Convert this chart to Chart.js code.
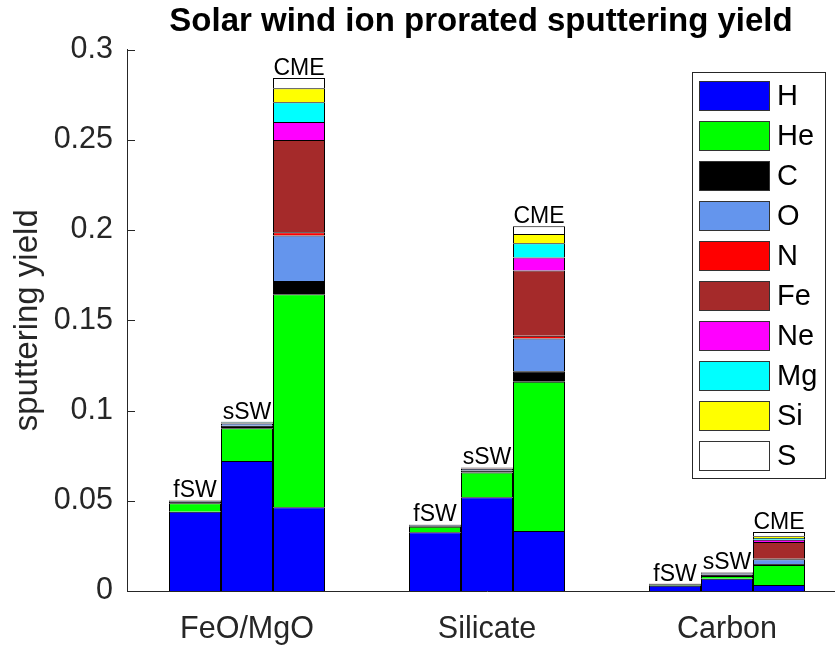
<!DOCTYPE html>
<html>
<head>
<meta charset="utf-8">
<script src="https://cdn.jsdelivr.net/npm/chart.js@4"></script>
<style>
  html, body { margin: 0; padding: 0; background: #fff; overflow: hidden; }
  #wrap { width: 860px; height: 645px; position: relative; }
</style>
</head>
<body>
<div id="wrap"><canvas id="sputter"></canvas></div>
<script>
// targets on the x axis, solar wind types within each target
const targets = ['FeO/MgO', 'Silicate', 'Carbon'];
const winds = ['fSW', 'sSW', 'CME'];
const species = ['H', 'He', 'C', 'O', 'N', 'Fe', 'Ne', 'Mg', 'Si', 'S'];

// yields, ordered: FeO/MgO fSW, sSW, CME | Silicate fSW, sSW, CME | Carbon fSW, sSW, CME
const yieldH  = [0.0439, 0.0720, 0.0464, 0.0325, 0.0519, 0.0332, 0.0029, 0.0068, 0.0033];
const yieldHe = [0.0047, 0.0181, 0.1180, 0.0031, 0.0138, 0.0827, 0.0004, 0.0015, 0.0111];
const yieldC  = [0.0008, 0.0014, 0.0074, 0.0006, 0.0010, 0.0059, 0.0004, 0.0009, 0.0006];
const yieldO  = [0.0004, 0.0013, 0.0251, 0.0003, 0.0009, 0.0181, 0.0002, 0.0007, 0.0026];
const yieldN  = [0.0001, 0.0001, 0.0019, 0.0001, 0.0001, 0.0015, 0.0000, 0.0001, 0.0006];
const yieldFe = [0.0002, 0.0004, 0.0510, 0.0001, 0.0003, 0.0362, 0.0001, 0.0002, 0.0089];
const yieldNe = [0.0001, 0.0001, 0.0101, 0.0001, 0.0001, 0.0072, 0.0001, 0.0001, 0.0013];
const yieldMg = [0.0001, 0.0002, 0.0109, 0.0001, 0.0002, 0.0078, 0.0000, 0.0001, 0.0010];
const yieldSi = [0.0001, 0.0001, 0.0077, 0.0000, 0.0001, 0.0052, 0.0000, 0.0001, 0.0009];
const yieldS  = [0.0000, 0.0001, 0.0057, 0.0000, 0.0001, 0.0043, 0.0000, 0.0000, 0.0024];

const yTicks = [0, 0.05, 0.1, 0.15, 0.2, 0.25, 0.3];

const yields = [yieldH, yieldHe, yieldC, yieldO, yieldN, yieldFe, yieldNe, yieldMg, yieldSi, yieldS];
const colors = ['#0000ff', '#00ff00', '#000000', '#6495ed', '#ff0000',
                '#a52a2a', '#ff00ff', '#00ffff', '#ffff00', '#ffffff'];

const TITLE = 'Solar wind ion prorated sputtering yield';
const FONT = 'Liberation Sans, Arial, Helvetica, sans-serif';
const AXIS = '#262626';

// one dataset per species and wind type, grouped with "stack"
const datasets = [];
winds.forEach((w, wi) => {
  species.forEach((sp, si) => {
    datasets.push({
      label: sp,
      stack: w,
      data: targets.map((t, ti) => yields[si][ti * winds.length + wi]),
      backgroundColor: colors[si],
      borderColor: '#000000',
      borderWidth: 1,
      barPercentage: 1.0,
      categoryPercentage: 0.65
    });
  });
});

// title centred over the axes, not the whole canvas
const axesTitle = {
  id: 'axesTitle',
  afterDraw(chart) {
    const { ctx, chartArea } = chart;
    ctx.save();
    ctx.font = 'bold 33px ' + FONT;
    ctx.fillStyle = '#000000';
    ctx.textAlign = 'center';
    ctx.textBaseline = 'middle';
    ctx.fillText(TITLE, (chartArea.left + chartArea.right) / 2 - 6, 22);
    ctx.restore();
  }
};

// inward y ticks (matlab style)
const inwardTicks = {
  id: 'inwardTicks',
  afterDraw(chart) {
    const { ctx, scales: { y }, chartArea } = chart;
    ctx.save();
    ctx.strokeStyle = AXIS;
    ctx.lineWidth = 1;
    yTicks.forEach(v => {
      const py = Math.round(y.getPixelForValue(v)) + 0.5;
      ctx.beginPath();
      ctx.moveTo(chartArea.left, py);
      ctx.lineTo(chartArea.left + 8, py);
      ctx.stroke();
    });
    ctx.restore();
  }
};

// fSW / sSW / CME text above each bar
const barLabels = {
  id: 'barLabels',
  afterDatasetsDraw(chart) {
    const { ctx } = chart;
    ctx.save();
    ctx.font = '23px ' + FONT;
    ctx.fillStyle = '#000000';
    ctx.textAlign = 'center';
    ctx.textBaseline = 'alphabetic';
    winds.forEach((w, wi) => {
      const topIdx = wi * species.length + species.length - 1;
      const meta = chart.getDatasetMeta(topIdx);
      meta.data.forEach(bar => {
        ctx.fillText(w, bar.x, bar.y - 3);
      });
    });
    ctx.restore();
  }
};

// legend box in the upper right, like the matlab one
const boxLegend = {
  id: 'boxLegend',
  afterDraw(chart) {
    const { ctx } = chart;
    const x0 = 692, y0 = 72, w = 133, h = 406;
    ctx.save();
    ctx.fillStyle = '#ffffff';
    ctx.fillRect(x0, y0, w, h);
    ctx.strokeStyle = '#262626';
    ctx.lineWidth = 1;
    ctx.strokeRect(x0 + 0.5, y0 + 0.5, w, h);
    ctx.font = '29px ' + FONT;
    ctx.textBaseline = 'middle';
    ctx.textAlign = 'left';
    species.forEach((sp, i) => {
      const py = y0 + 9 + i * 40;
      ctx.fillStyle = colors[i];
      ctx.fillRect(x0 + 7, py, 71, 30);
      ctx.strokeStyle = '#333333';
      ctx.strokeRect(x0 + 7.5, py + 0.5, 70, 29);
      ctx.fillStyle = '#000000';
      ctx.fillText(sp, x0 + 85, py + 16);
    });
    ctx.restore();
  }
};

new Chart(document.getElementById('sputter'), {
  type: 'bar',
  data: { labels: targets, datasets: datasets },
  plugins: [axesTitle, inwardTicks, barLabels, boxLegend],
  options: {
    responsive: true,
    maintainAspectRatio: false,
    animation: false,
    layout: { padding: { left: 0, right: 13, top: 49.5, bottom: 0 } },
    plugins: {
      legend: { display: false },
      tooltip: { enabled: false },
      title: { display: false }
    },
    scales: {
      x: {
        stacked: true,
        grid: { display: false },
        border: { display: true, color: AXIS, width: 1 },
        ticks: { color: AXIS, font: { family: FONT, size: 30.5 }, padding: 12 },
        afterFit: s => { s.height = 54; }
      },
      y: {
        stacked: true,
        min: 0,
        max: 0.3,
        afterBuildTicks: s => { s.ticks = yTicks.map(v => ({ value: v })); },
        grid: { display: false, drawTicks: false },
        border: { display: true, color: AXIS, width: 1 },
        ticks: {
          color: AXIS,
          font: { family: FONT, size: 30.5 },
          padding: 14,
          callback: v => String(+v.toFixed(2))
        },
        title: {
          display: true,
          text: 'sputtering yield',
          color: AXIS,
          font: { family: FONT, size: 33 },
          padding: { top: 8, bottom: 0 }
        },
        afterFit: s => { s.width = 127; }
      }
    }
  }
});
</script>
</body>
</html>
